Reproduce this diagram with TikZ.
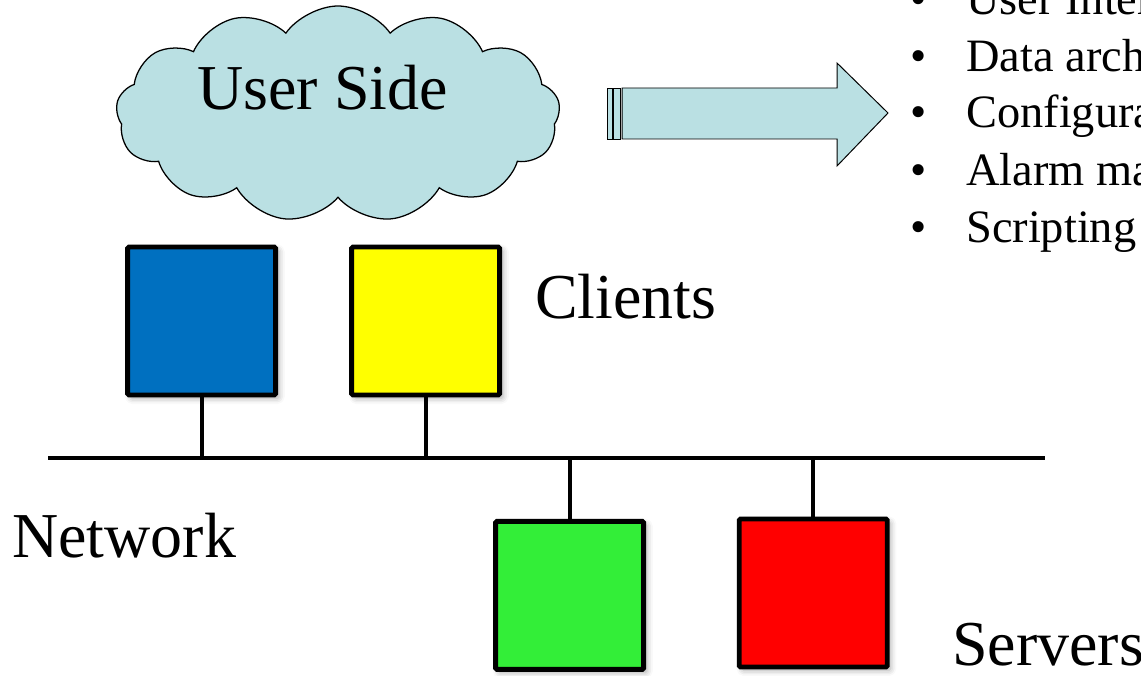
\documentclass[tikz,border=0pt]{standalone}
\usepackage{fontspec}
\setmainfont{Liberation Serif}
\definecolor{cloudblue}{RGB}{186,224,227}
\definecolor{clientblue}{RGB}{0,112,192}
\definecolor{clientyellow}{RGB}{255,255,0}
\definecolor{servergreen}{RGB}{51,238,56}
\definecolor{serverred}{RGB}{255,0,0}
\usetikzlibrary{positioning,shapes.symbols,shadows.blur}

\begin{document}
\begin{tikzpicture}[
    big/.style={font=\fontsize{45.5}{54}\selectfont,inner sep=0pt,anchor=base west},
    item/.style={font=\fontsize{33}{38}\selectfont,inner sep=0pt,anchor=base west},
    host/.style={draw,line width=3.5pt,rounded corners=1pt,
        minimum width=3.7cm,minimum height=3.7cm,
        blur shadow={shadow xshift=0.08cm,shadow yshift=-0.08cm,
            shadow blur radius=0.15cm,shadow opacity=35}},
    wire/.style={line width=2.8pt},
    pipe/.style={draw,line width=0.7pt,fill=cloudblue}
    ]
    \useasboundingbox (0,0) rectangle (28.525,16.875);
    \clip (0,0) rectangle (28.525,16.875);

    % user side
    \node (cloud) [cloud,draw,fill=cloudblue,line width=0.9pt,cloud puffs=13,
        cloud puff arc=110,minimum width=11.1cm,minimum height=5.4cm] at (8.45,14.025) {};
    \node (userside) [big] at (4.925,14.125) {User Side};

    % the big arrow with its striped tail
    \draw[pipe] (15.175,13.4) rectangle (15.3,14.675);
    \draw[pipe] (15.335,13.4) rectangle (15.52,14.675);
    \draw[pipe] (15.55,14.675) -- (20.925,14.675) -- (20.925,15.3)
        -- (22.2,14.05) -- (20.925,12.725) -- (20.925,13.4) -- (15.55,13.4) -- cycle;

    % what the user side does
    \node (item1) [item] at (22.75,16.5) {\makebox[1.4cm][l]{•}User Interface};
    \node (item2) [item] at (22.75,15.075) {\makebox[1.4cm][l]{•}Data archiving};
    \node (item3) [item] at (22.75,13.675) {\makebox[1.4cm][l]{•}Configuration};
    \node (item4) [item] at (22.75,12.25) {\makebox[1.4cm][l]{•}Alarm management};
    \node (item5) [item] at (22.75,10.825) {\makebox[1.4cm][l]{•}Scripting};

    % clients and servers
    \node (blue) [host,fill=clientblue] at (5.04,8.85) {};
    \node (yellow) [host,fill=clientyellow] at (10.64,8.85) {};
    \node (green) [host,fill=servergreen] at (14.24,1.99) {};
    \node (red) [host,fill=serverred] at (20.33,2.05) {};

    % the network
    \coordinate (netL) at (1.2,5.425);
    \coordinate (netR) at (26.125,5.425);
    \draw[wire] (netL) -- (netR);
    \draw[wire] (blue.south) -- (blue.south |- netL);
    \draw[wire] (yellow.south) -- (yellow.south |- netL);
    \draw[wire] (green.north) -- (green.north |- netL);
    \draw[wire] (red.north) -- (red.north |- netL);

    % labels
    \node (clients) [big] at (13.375,8.925) {Clients};
    \node (network) [big] at (0.3,2.95) {Network};
    \node (servers) [big] at (23.8,0.25) {Servers};
\end{tikzpicture}
\end{document}
